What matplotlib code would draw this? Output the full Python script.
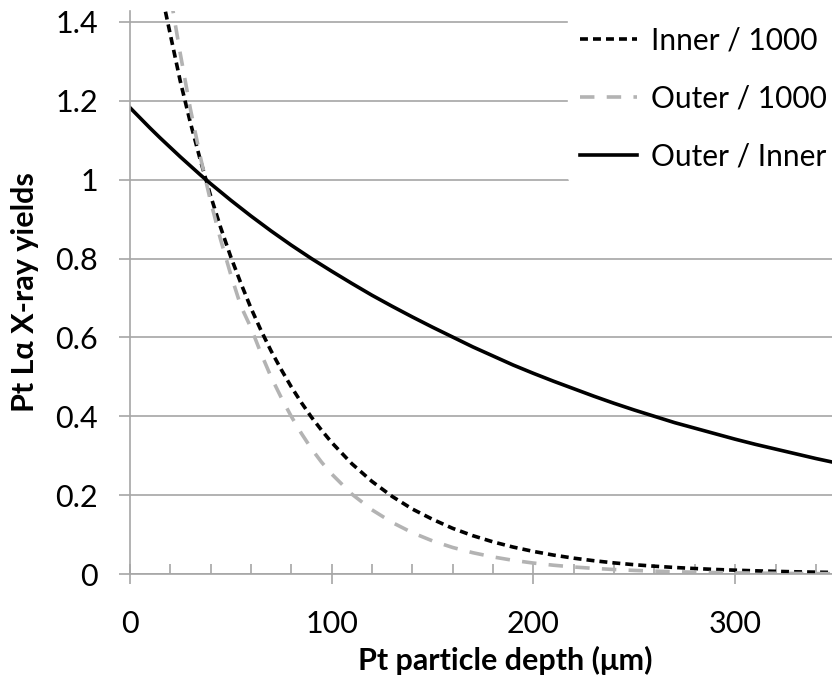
import matplotlib.pyplot as plt
from matplotlib.ticker import MultipleLocator, FuncFormatter

# depth in um
depth = [0, 5, 10, 15, 20, 25, 30, 35, 40, 45, 50, 55, 60, 65, 70, 75, 80, 85, 90, 95,
         100, 110, 120, 130, 140, 150, 160, 170, 180, 190, 200, 210, 220, 230, 240,
         250, 260, 270, 280, 290, 300, 310, 320, 330, 340, 350]

inner = [1.94, 1.78, 1.63, 1.49, 1.37, 1.25, 1.145, 1.049, 0.960, 0.879, 0.805, 0.738,
         0.675, 0.618, 0.566, 0.519, 0.475, 0.435, 0.398, 0.365,
         0.334, 0.280, 0.235, 0.197, 0.165, 0.139, 0.116, 0.0974, 0.0817, 0.0685,
         0.0575, 0.0482, 0.0404, 0.0339, 0.0284, 0.0238, 0.0200, 0.0168, 0.0141, 0.0118,
         0.0099, 0.0083, 0.0070, 0.0058, 0.0049, 0.0041]

outer = [2.28, 2.04, 1.83, 1.64, 1.47, 1.32, 1.18, 1.057, 0.946, 0.848, 0.760, 0.680,
         0.625, 0.56, 0.50, 0.448, 0.40, 0.357, 0.318, 0.284,
         0.254, 0.203, 0.163, 0.131, 0.105, 0.0842, 0.0675, 0.0542, 0.0435, 0.0349,
         0.0280, 0.0225, 0.0180, 0.0145, 0.0116, 0.0093, 0.0075, 0.0060, 0.0048, 0.0039,
         0.0031, 0.0025, 0.0020, 0.0016, 0.0013, 0.0010]

ratio = [1.183, 1.157, 1.131, 1.106, 1.082, 1.058, 1.035, 1.012, 0.990, 0.969, 0.948,
         0.928, 0.908, 0.889, 0.870, 0.852, 0.834, 0.817, 0.800, 0.784,
         0.768, 0.737, 0.707, 0.679, 0.652, 0.626, 0.601, 0.576, 0.553, 0.530,
         0.509, 0.489, 0.470, 0.451, 0.433, 0.416, 0.400, 0.384, 0.370, 0.356,
         0.342, 0.329, 0.317, 0.305, 0.293, 0.282]

plt.rcParams['font.family'] = ['Lato', 'DejaVu Sans']

fig = plt.figure(figsize=(8.32, 6.77), dpi=100)
ax = fig.add_axes([0.156, 0.152, 0.844, 0.832])

grid_col = '#a6a6a6'
ax.plot(depth, inner, color='black', lw=2.6, dashes=(2.2, 1.4), label='Inner / 1000')
ax.plot(depth, outer, color='#b3b3b3', lw=2.6, dashes=(4.0, 3.4), label='Outer / 1000')
ax.plot(depth, ratio, color='black', lw=2.6, label='Outer / Inner')

ax.set_xlim(0, 348)
ax.set_ylim(0, 1.428)
ax.yaxis.set_major_locator(MultipleLocator(0.2))
ax.yaxis.set_major_formatter(FuncFormatter(lambda v, p: '{:g}'.format(round(v, 1))))
ax.xaxis.set_major_locator(MultipleLocator(100))
ax.xaxis.set_minor_locator(MultipleLocator(20))
ax.grid(axis='y', color=grid_col, lw=1.2)
ax.set_axisbelow(True)

for s in ['top', 'right']:
    ax.spines[s].set_visible(False)
for s in ['left', 'bottom']:
    ax.spines[s].set_color(grid_col)
    ax.spines[s].set_linewidth(1.2)

ax.tick_params(axis='y', length=8, width=1.2, color=grid_col, labelsize=22, pad=15)
ax.tick_params(axis='x', which='major', direction='inout', length=14, width=1.2,
               color=grid_col, labelsize=22, pad=19)
ax.tick_params(axis='x', which='minor', direction='in', length=7, width=1.2, color=grid_col)

ax.set_xlabel('Pt particle depth (μm)', fontsize=22, fontweight='bold')
ax.set_ylabel('Pt Lα X-ray yields', fontsize=22, fontweight='bold')
ax.xaxis.set_label_coords(0.535, -0.127)
ax.yaxis.set_label_coords(-0.13, 0.5)

leg = ax.legend(loc='upper left', bbox_to_anchor=(0.624, 0.993), borderaxespad=0,
                frameon=True, fontsize=21.5, handlelength=1.9, labelspacing=1.0,
                handletextpad=0.47)
leg.get_frame().set_edgecolor('white')
leg.get_frame().set_facecolor('white')
leg.get_frame().set_alpha(1)

fig.savefig('out.png', dpi=100)
